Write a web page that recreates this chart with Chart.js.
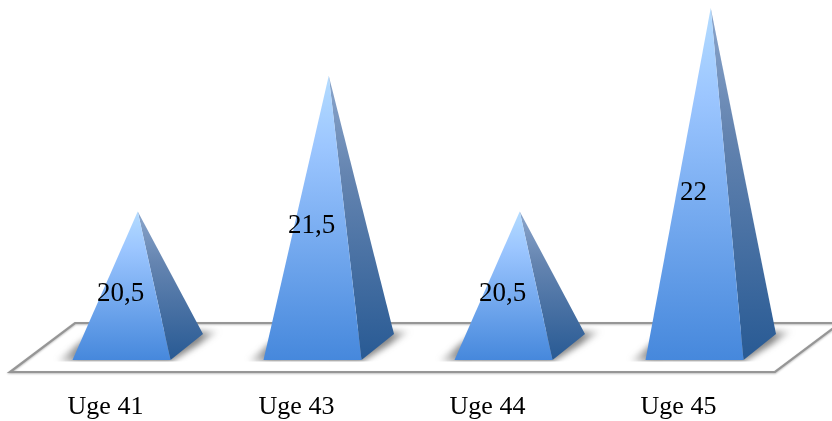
<!DOCTYPE html>
<html lang="da">
<head>
<meta charset="utf-8">
<title>Uge</title>
<style>
  html, body { margin: 0; padding: 0; background: #fff; }
  canvas { display: block; }
</style>
<script src="https://cdn.jsdelivr.net/npm/chart.js@4"></script>
</head>
<body>
<canvas id="chart" width="832" height="421"></canvas>
<script>
const categories = ['Uge 41', 'Uge 43', 'Uge 44', 'Uge 45'];
const values = [20.5, 21.5, 20.5, 22];
const axisMin = 19.5;
const axisMax = 22;

// Oblique projection of the 3D floor and of each pyramid's footprint
const floorDepth = { x: 65, y: -49 };
const barInset = { x: 16, y: -12 };
const barDepth = { x: 32.5, y: -26 };

const pyramids = {
  id: 'pyramids',
  beforeDatasetsDraw(chart) {
    const { ctx, chartArea: a } = chart;
    // Floor plate
    ctx.save();
    ctx.beginPath();
    ctx.moveTo(a.left, a.bottom);
    ctx.lineTo(a.right + 1, a.bottom);
    ctx.lineTo(a.right + 1 + floorDepth.x, a.bottom + floorDepth.y);
    ctx.lineTo(a.left + floorDepth.x, a.bottom + floorDepth.y);
    ctx.closePath();
    ctx.fillStyle = '#ffffff';
    ctx.fill();
    ctx.strokeStyle = '#969696';
    ctx.lineWidth = 2.2;
    ctx.shadowColor = 'rgba(0,0,0,0.25)';
    ctx.shadowBlur = 2;
    ctx.shadowOffsetY = 1;
    ctx.stroke();
    ctx.restore();
  },
  afterDatasetsDraw(chart) {
    const { ctx } = chart;
    const meta = chart.getDatasetMeta(0);
    meta.data.forEach((bar, i) => {
      const half = bar.width / 2;
      const fl = bar.x - half + barInset.x;
      const fr = bar.x + half + barInset.x;
      const by = bar.base + barInset.y;
      const apexX = (fl + fr) / 2 + barDepth.x / 2;
      const apexY = bar.y + barInset.y + barDepth.y / 2;
      const brX = fr + barDepth.x;
      const brY = by + barDepth.y;

      // Soft cast shadow around the footprint, cut off at the front edge
      ctx.save();
      ctx.beginPath();
      ctx.rect(fl - 30, brY - 8, fr - fl + 100, by - brY + 9.5);
      ctx.clip();
      const sh = ctx.createLinearGradient(fl - 17, 0, brX + 17, 0);
      sh.addColorStop(0, 'rgba(80,80,80,0)');
      sh.addColorStop(0.13, 'rgba(80,80,80,0.65)');
      sh.addColorStop(0.87, 'rgba(80,80,80,0.7)');
      sh.addColorStop(1, 'rgba(80,80,80,0)');
      ctx.filter = 'blur(3px)';
      ctx.fillStyle = sh;
      ctx.beginPath();
      ctx.moveTo(fl - 17, by + 2);
      ctx.lineTo(fr, by + 2);
      ctx.lineTo(brX + 17, brY - 3);
      ctx.lineTo(fl + barDepth.x - 10, brY - 3);
      ctx.closePath();
      ctx.fill();
      ctx.restore();

      // Right side face
      const side = ctx.createLinearGradient(0, apexY, 0, by);
      side.addColorStop(0, '#8ba6cc');
      side.addColorStop(0.35, '#6484b0');
      side.addColorStop(1, '#285a94');
      ctx.fillStyle = side;
      ctx.beginPath();
      ctx.moveTo(fr, by);
      ctx.lineTo(brX, brY);
      ctx.lineTo(apexX, apexY);
      ctx.closePath();
      ctx.fill();

      // Front face
      const front = ctx.createLinearGradient(0, apexY, 0, by);
      front.addColorStop(0, '#b4dcff');
      front.addColorStop(0.25, '#9cc6ff');
      front.addColorStop(1, '#4688dc');
      ctx.fillStyle = front;
      ctx.beginPath();
      ctx.moveTo(fl, by);
      ctx.lineTo(fr, by);
      ctx.lineTo(apexX, apexY);
      ctx.closePath();
      ctx.fill();

      // Value label at the middle of the front face, decimal comma as written
      ctx.save();
      ctx.font = '27px "Liberation Serif", serif';
      ctx.fillStyle = '#000';
      ctx.textAlign = 'center';
      ctx.textBaseline = 'middle';
      const label = String(values[i]).replace('.', ',');
      ctx.fillText(label, bar.x + barInset.x - 1, (bar.y + bar.base) / 2 + barInset.y + 2);
      ctx.restore();
    });
  }
};

new Chart(document.getElementById('chart'), {
  type: 'bar',
  data: {
    labels: categories,
    datasets: [{
      data: values,
      base: axisMin,
      backgroundColor: 'rgba(0,0,0,0)',
      barPercentage: 0.513,
      categoryPercentage: 1
    }]
  },
  plugins: [pyramids],
  options: {
    responsive: false,
    animation: false,
    layout: { padding: { left: 10, right: 58, top: 33, bottom: 0 } },
    plugins: { legend: { display: false }, tooltip: { enabled: false } },
    scales: {
      x: {
        grid: { display: false, drawTicks: false },
        border: { display: false },
        afterFit(scale) { scale.height = 49; },
        ticks: {
          color: '#000',
          padding: 20,
          maxRotation: 0,
          font: { family: '"Liberation Serif", serif', size: 26 }
        }
      },
      y: { display: false, min: axisMin, max: axisMax }
    }
  }
});
</script>
</body>
</html>
